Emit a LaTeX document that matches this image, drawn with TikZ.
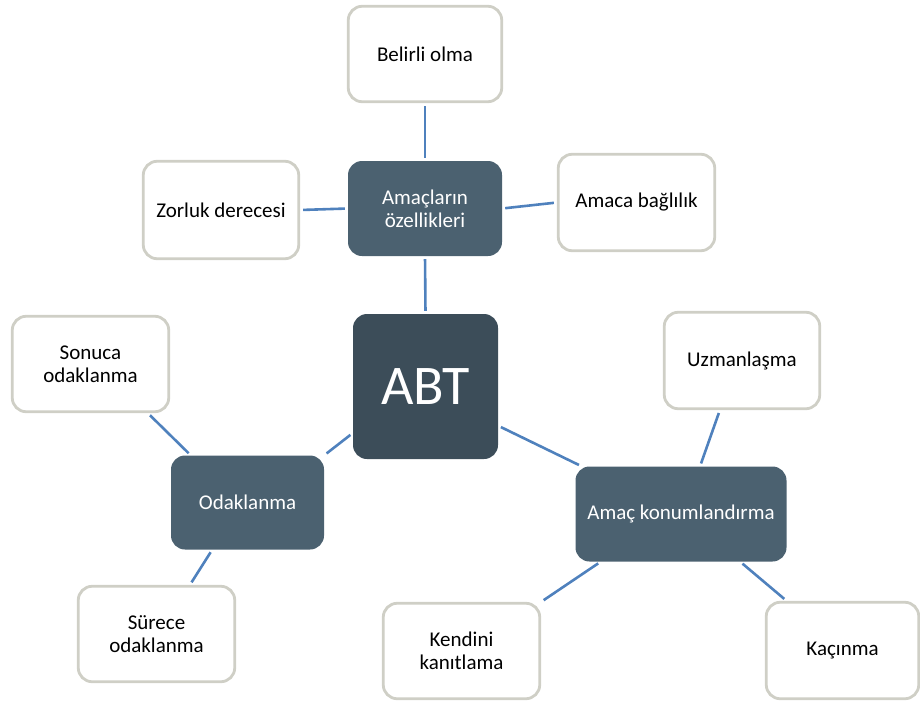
\documentclass[tikz,border=0pt]{standalone}
\usepackage{fontspec}
\setmainfont{Carlito}
\usetikzlibrary{calc}
\definecolor{lnk}{HTML}{4F81BD}
\definecolor{boxgray}{HTML}{CFCFC6}
\definecolor{darkfill}{HTML}{4B6170}
\definecolor{abtfill}{HTML}{3C4D59}
\begin{document}
\begin{tikzpicture}[x=1pt,y=-1pt,
  lightbox/.style={draw=boxgray, fill=white, line width=2.8pt, rounded corners=14pt,
    align=center, font=\fontsize{21}{23}\selectfont, inner sep=2pt, text=black},
  darkbox/.style={fill=darkfill, rounded corners=14pt, align=center,
    font=\fontsize{21}{23}\selectfont, inner sep=2pt, text=white},
  link/.style={draw=lnk, line width=2.6pt, shorten >=3pt, shorten <=3pt}]
\useasboundingbox (0,0) rectangle (920,707);
% nodes
\node[lightbox, minimum width=153.5pt, minimum height=95.5pt] (bel) at (425,54) {Belirli olma};
\node[lightbox, minimum width=155.5pt, minimum height=97.5pt] (zor) at (221,210) {Zorluk derecesi};
\node[darkbox, minimum width=154pt, minimum height=95pt] (ozel) at (425,208.5) {Amaçların\\özellikleri};
\node[lightbox, minimum width=156.5pt, minimum height=96.5pt] (bag) at (636.5,202.5) {Amaca bağlılık};
\node[lightbox, minimum width=156.5pt, minimum height=95.5pt] (son) at (90.5,364) {Sonuca\\odaklanma};
\node[lightbox, minimum width=155.5pt, minimum height=96.5pt] (uzm) at (742,360.5) {Uzmanlaşma};
\node[darkbox, fill=abtfill, minimum width=145pt, minimum height=145pt,
  font=\fontsize{56}{60}\selectfont] (abt) at (425.5,386.5) {ABT};
\node[darkbox, minimum width=153pt, minimum height=94pt] (odak) at (247.5,502.5) {Odaklanma};
\node[darkbox, minimum width=211pt, minimum height=95pt] (konum) at (681,514) {Amaç konumlandırma};
\node[lightbox, minimum width=156.5pt, minimum height=95.5pt] (sur) at (156.5,634) {Sürece\\odaklanma};
\node[lightbox, minimum width=156.5pt, minimum height=95.5pt] (ken) at (461.5,651) {Kendini\\kanıtlama};
\node[lightbox, minimum width=152.5pt, minimum height=96.5pt] (kac) at (842.5,650.5) {Kaçınma};
% connectors
\draw[link] (bel.south) -- (ozel.north);
\draw[link] (zor.east) -- (ozel.west);
\draw[link] (ozel.east) -- (bag.west);
\draw[link] (ozel.south) -- (abt.north);
\draw[link] ($(abt.north west)!0.82!(abt.south west)$) -- (odak.north east);
\draw[link] ($(son.south west)!0.86!(son.south east)$) -- ($(odak.north west)!0.13!(odak.north east)$);
\draw[link] ($(odak.south west)!0.27!(odak.south east)$) -- ($(sur.north west)!0.71!(sur.north east)$);
\draw[link] ($(abt.north east)!0.77!(abt.south east)$) -- ($(konum.north west)!0.03!(konum.north east)$);
\draw[link] ($(uzm.south west)!0.36!(uzm.south east)$) -- ($(konum.north west)!0.59!(konum.north east)$);
\draw[link] ($(konum.south west)!0.12!(konum.south east)$) -- (ken.north east);
\draw[link] ($(konum.south west)!0.78!(konum.south east)$) -- ($(kac.north west)!0.14!(kac.north east)$);
\end{tikzpicture}
\end{document}
